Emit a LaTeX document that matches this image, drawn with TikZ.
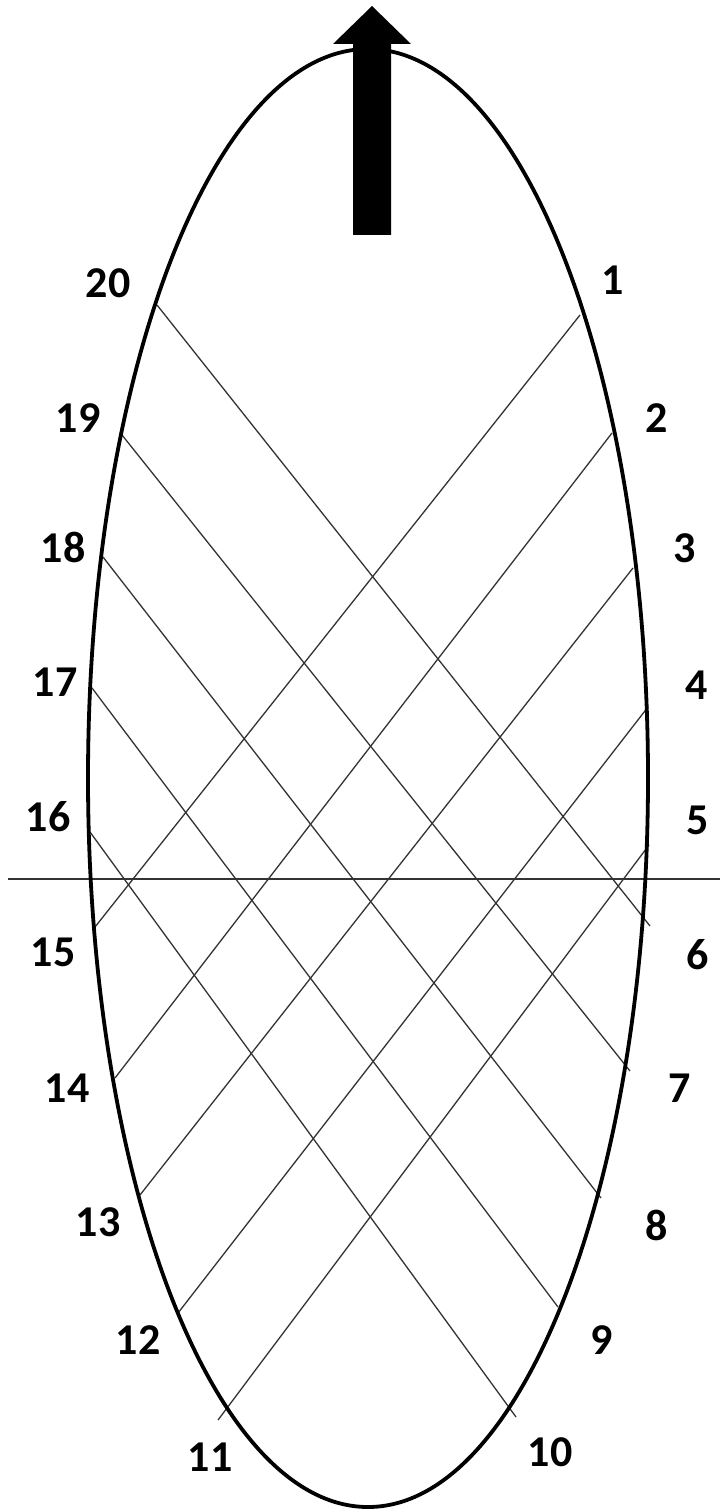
\documentclass[tikz,border=0pt]{standalone}
\usepackage{fontspec}
\setmainfont{Carlito}
\usetikzlibrary{arrows.meta,positioning}

\begin{document}
\begin{tikzpicture}[x=1pt, y=-1pt,
  rim/.style={draw=black, line width=3.8pt},
  chord/.style={draw=black!80, line width=1.3pt},
  midline/.style={draw=black!80, line width=1.8pt},
  num/.style={font=\fontsize{44}{44}\selectfont\bfseries, inner sep=0pt},
]
\useasboundingbox (0,0) rectangle (720,1511);

% points on the rim
\coordinate (p1) at (580,315);
\coordinate (p2) at (612,433);
\coordinate (p3) at (633,568);
\coordinate (p4) at (648,707);
\coordinate (p5) at (649,845);
\coordinate (p6) at (650,926);
\coordinate (p7) at (630,1071);
\coordinate (p8) at (601,1198);
\coordinate (p9) at (558,1307);
\coordinate (p10) at (516,1417);
\coordinate (p11) at (218,1420);
\coordinate (p12) at (178,1313);
\coordinate (p13) at (140,1195);
\coordinate (p14) at (115,1078);
\coordinate (p15) at (95,927);
\coordinate (p16) at (90,832);
\coordinate (p17) at (92,688);
\coordinate (p18) at (103,557);
\coordinate (p19) at (122,435);
\coordinate (p20) at (157,305);
\coordinate (midL) at (8,879);
\coordinate (midR) at (720,879);
\coordinate (ctr) at (368,778);

\draw[chord] (p20) -- (p6);
\draw[chord] (p19) -- (p7);
\draw[chord] (p18) -- (p8);
\draw[chord] (p17) -- (p9);
\draw[chord] (p16) -- (p10);
\draw[chord] (p1) -- (p15);
\draw[chord] (p2) -- (p14);
\draw[chord] (p3) -- (p13);
\draw[chord] (p4) -- (p12);
\draw[chord] (p5) -- (p11);
\draw[midline] (midL) -- (midR);

\draw[rim] (ctr) ellipse [x radius=280pt, y radius=729pt];

% heading arrow
\fill[black] (353,235) -- (353,44) -- (333,44) -- (372,6) -- (411,44)
  -- (391,44) -- (391,235) -- cycle;

\node[num] (n1) at (613,280) {1};
\node[num] (n2) at (657,418) {2};
\node[num] (n3) at (685,548) {3};
\node[num] (n4) at (697,685) {4};
\node[num] (n5) at (698,820) {5};
\node[num] (n6) at (698,955) {6};
\node[num] (n7) at (680,1088) {7};
\node[num] (n8) at (657,1225) {8};
\node[num] (n9) at (602,1340) {9};
\node[num] (n10) at (550,1452) {10};
\node[num] (n11) at (210,1457) {11};
\node[num] (n12) at (138,1340) {12};
\node[num] (n13) at (98,1222) {13};
\node[num] (n14) at (67,1088) {14};
\node[num] (n15) at (53,952) {15};
\node[num] (n16) at (48,817) {16};
\node[num] (n17) at (55,682) {17};
\node[num] (n18) at (63,547) {18};
\node[num] (n19) at (78,418) {19};
\node[num] (n20) at (108,283) {20};

\end{tikzpicture}
\end{document}
